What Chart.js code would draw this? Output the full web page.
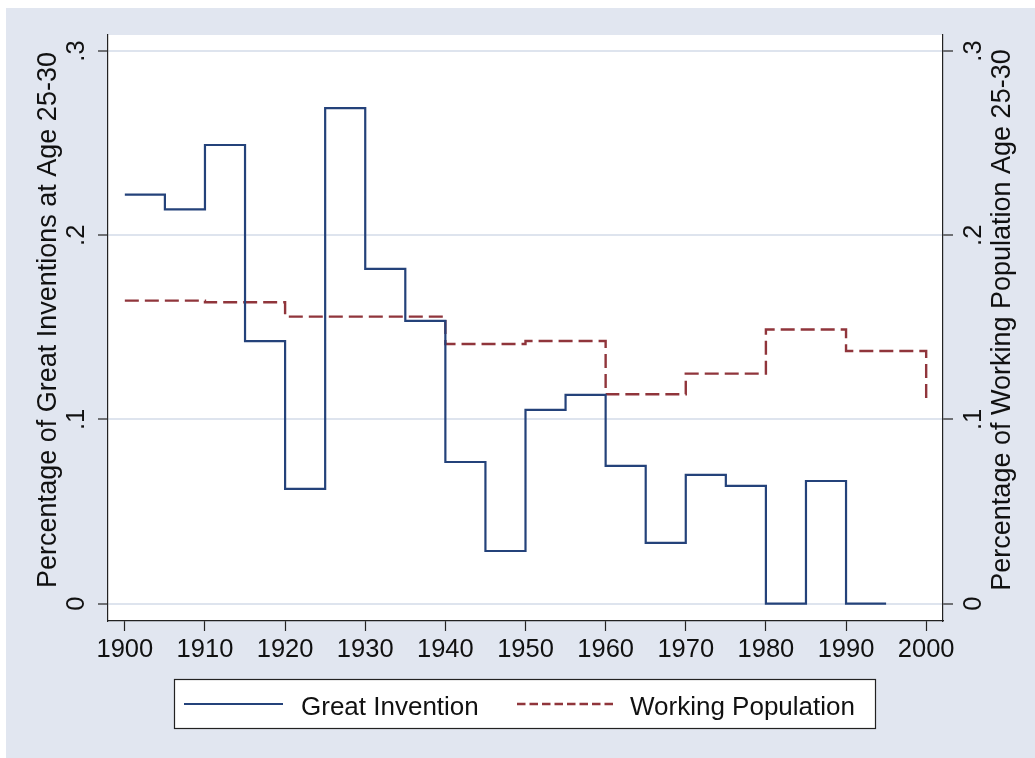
<!DOCTYPE html>
<html>
<head>
<meta charset="utf-8">
<script src="https://cdn.jsdelivr.net/npm/chart.js@4.4.1/dist/chart.umd.min.js"></script>
<style>
html,body{margin:0;padding:0;background:#fff;}
#wrap{position:absolute;left:0;top:0;width:1035px;height:758px;}
</style>
</head>
<body>
<div id="wrap"><canvas id="c" width="1035" height="758"></canvas></div>
<script>
// ---- data ----
const inventionYears = [1900,1905,1910,1915,1920,1925,1930,1935,1940,1945,1950,1955,1960,1965,1970,1975,1980,1985,1990,1995];
const greatInvention = [0.222,0.214,0.249,0.1425,0.0623,0.269,0.1817,0.1535,0.0769,0.0286,0.1052,0.1133,0.0748,0.033,0.0699,0.0639,0,0.0666,0,0];
const workYears = [1900,1910,1920,1930,1940,1950,1960,1970,1980,1990,2000];
const workingPopulation = [0.1645,0.1636,0.1558,0.1558,0.141,0.1426,0.1137,0.1249,0.1488,0.1372,0.1097];
const xTickValues = [1900,1910,1920,1930,1940,1950,1960,1970,1980,1990,2000];
const yTickValues = [0,0.1,0.2,0.3];
const yTickLabels = ['0','.1','.2','.3'];
const seriesNames = ['Great Invention','Working Population'];
const axisTitles = ['Percentage of Great Inventions at Age 25-30','Percentage of Working Population Age 25-30'];

// ---- styles ----
const FONT = '"Liberation Sans", Arial, sans-serif';
const BG = 'rgb(225,230,240)';
const GRID = 'rgb(222,228,238)';
const BLUE = '#24427a';
const RED = '#90353b';
const INK = '#111111';
const AXIS = '#222222';

const tickLabel = (v) => {
  const i = yTickValues.findIndex(t => Math.abs(t - v) < 1e-9);
  return i >= 0 ? yTickLabels[i] : '';
};

const yScaleCommon = (pos, width, drawGrid) => ({
  type: 'linear',
  position: pos,
  min: -0.0094,
  max: 0.3087,
  afterBuildTicks: (s) => { s.ticks = yTickValues.map(v => ({value: v})); },
  afterFit: (s) => { s.width = width; },
  border: {display: true, color: AXIS, width: 1.2},
  grid: {
    display: true,
    drawOnChartArea: drawGrid,
    drawTicks: true,
    tickLength: 10,
    tickColor: AXIS,
    tickWidth: 1.2,
    color: GRID,
    lineWidth: 2
  },
  ticks: {
    minRotation: 90,
    maxRotation: 90,
    crossAlign: 'center',
    padding: 10,
    color: INK,
    font: {family: FONT, size: 25.5},
    callback: (v) => tickLabel(v)
  }
});

const bgPlugin = {
  id: 'bgPlugin',
  beforeDraw(chart) {
    const ctx = chart.ctx, a = chart.chartArea;
    ctx.save();
    ctx.fillStyle = '#ffffff';
    ctx.fillRect(0, 0, chart.width, chart.height);
    ctx.fillStyle = BG;
    ctx.fillRect(6, 8, chart.width - 6, chart.height - 8);
    ctx.fillStyle = '#ffffff';
    ctx.fillRect(a.left, a.top, a.right - a.left, a.bottom - a.top);
    ctx.restore();
  }
};

const textPlugin = {
  id: 'textPlugin',
  afterDraw(chart) {
    const ctx = chart.ctx, a = chart.chartArea;
    const cy = (a.top + a.bottom) / 2 - 8;
    ctx.save();
    ctx.fillStyle = INK;
    ctx.font = '27px ' + FONT;
    ctx.textAlign = 'center';
    ctx.textBaseline = 'alphabetic';
    // left title
    ctx.save();
    ctx.translate(a.left - 52, cy);
    ctx.rotate(-Math.PI / 2);
    ctx.fillText(axisTitles[0], 0, 0);
    ctx.restore();
    // right title
    ctx.save();
    ctx.translate(a.right + 67, cy);
    ctx.rotate(-Math.PI / 2);
    ctx.fillText(axisTitles[1], 0, 0);
    ctx.restore();

    // legend
    const lx = 174, ly = 679, lw = 701, lh = 49;
    ctx.fillStyle = '#ffffff';
    ctx.fillRect(lx, ly, lw, lh);
    ctx.strokeStyle = AXIS;
    ctx.lineWidth = 1.2;
    ctx.strokeRect(lx + 0.5, ly + 0.5, lw, lh);
    const my = ly + 25;
    const ds = chart.data.datasets;
    // sample 1
    ctx.beginPath();
    ctx.strokeStyle = ds[0].borderColor;
    ctx.lineWidth = ds[0].borderWidth;
    ctx.setLineDash([]);
    ctx.moveTo(184, my); ctx.lineTo(283, my);
    ctx.stroke();
    // sample 2
    ctx.beginPath();
    ctx.strokeStyle = ds[1].borderColor;
    ctx.lineWidth = ds[1].borderWidth;
    ctx.setLineDash([8.5, 4]);
    ctx.moveTo(517, my); ctx.lineTo(616, my);
    ctx.stroke();
    ctx.setLineDash([]);
    ctx.fillStyle = INK;
    ctx.font = '26px ' + FONT;
    ctx.textAlign = 'left';
    ctx.fillText(ds[0].label, 301, ly + 36);
    ctx.fillText(ds[1].label, 630, ly + 36);
    ctx.restore();
  }
};

new Chart(document.getElementById('c'), {
  type: 'line',
  data: {
    datasets: [
      {
        label: seriesNames[0],
        data: inventionYears.map((x, i) => ({x: x, y: greatInvention[i]})),
        yAxisID: 'y',
        borderColor: BLUE,
        borderWidth: 2.2,
        stepped: 'before',
        pointRadius: 0,
        fill: false,
        tension: 0
      },
      {
        label: seriesNames[1],
        data: workYears.map((x, i) => ({x: x, y: workingPopulation[i]})),
        yAxisID: 'y2',
        borderColor: RED,
        borderWidth: 2.4,
        borderDash: [14, 6],
        stepped: 'before',
        pointRadius: 0,
        fill: false,
        tension: 0
      }
    ]
  },
  options: {
    responsive: false,
    animation: false,
    devicePixelRatio: 1,
    layout: {padding: {top: 35, left: 0, right: 0, bottom: 0}},
    plugins: {legend: {display: false}, tooltip: {enabled: false}},
    scales: {
      x: {
        type: 'linear',
        position: 'bottom',
        min: 1897.9,
        max: 2002.1,
        afterBuildTicks: (s) => { s.ticks = xTickValues.map(v => ({value: v})); },
        afterFit: (s) => { s.height = 137; },
        border: {display: true, color: AXIS, width: 1.2},
        grid: {display: true, drawOnChartArea: false, drawTicks: true, tickLength: 10, tickColor: AXIS, tickWidth: 1.2},
        ticks: {
          autoSkip: false,
          maxRotation: 0,
          minRotation: 0,
          padding: 4,
          color: INK,
          font: {family: FONT, size: 25.5},
          callback: (v) => String(v)
        }
      },
      y: yScaleCommon('left', 108, true),
      y2: yScaleCommon('right', 92, false)
    }
  },
  plugins: [bgPlugin, textPlugin]
});
</script>
</body>
</html>
